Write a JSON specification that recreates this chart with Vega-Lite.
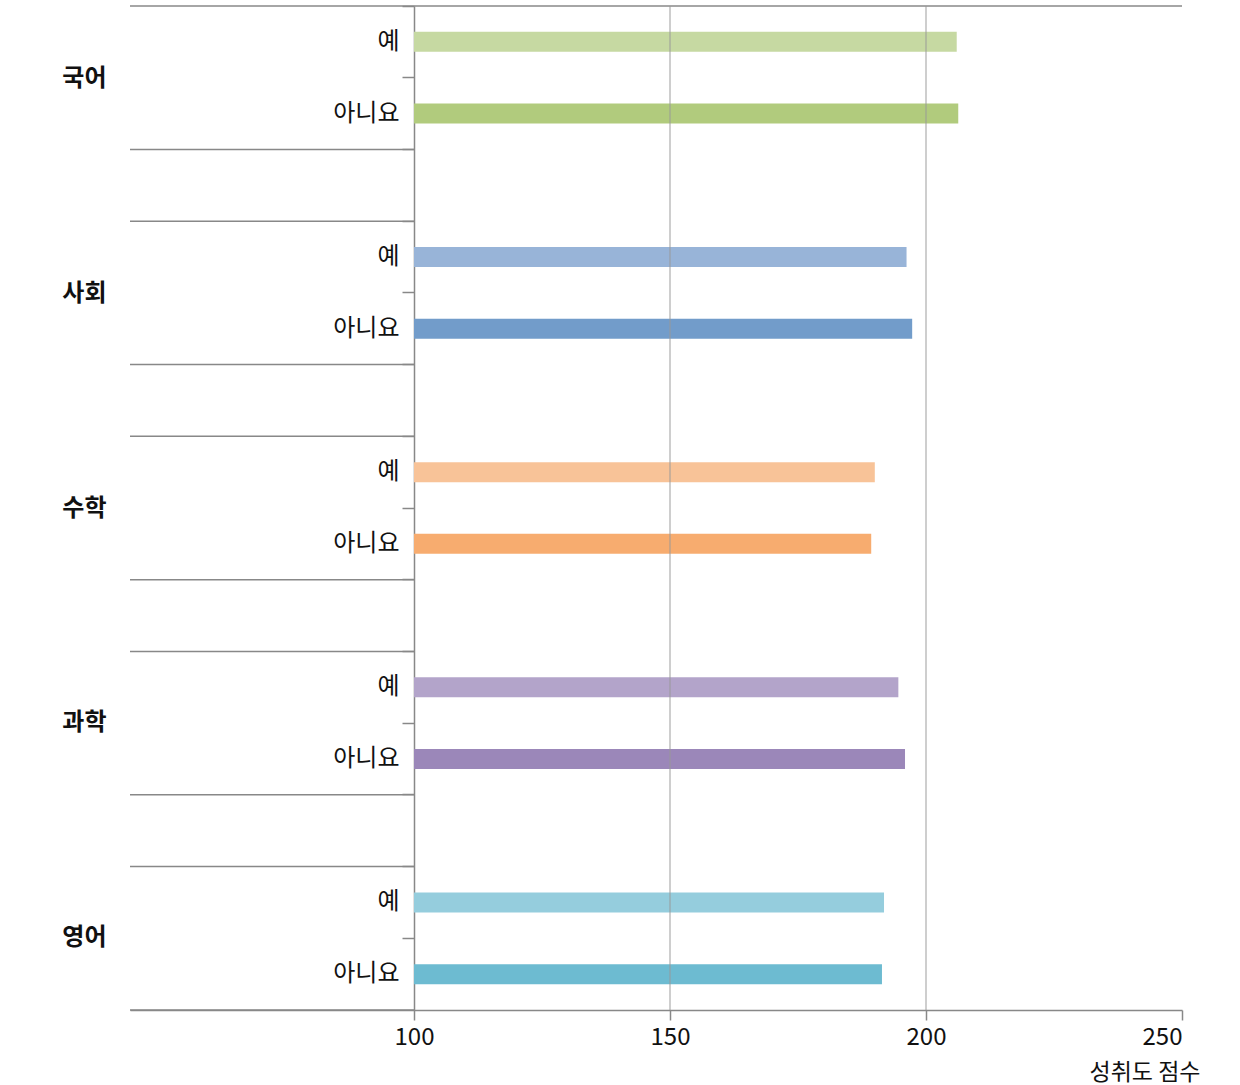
{
  "$schema": "https://vega.github.io/schema/vega-lite/v6.json",
  "width": 1052,
  "height": 1004,
  "autosize": {"type": "none"},
  "padding": {"left": 130, "top": 6, "right": 58, "bottom": 75},
  "config": {"view": {"stroke": null}, "font": "Noto Sans CJK KR"},
  "data": {"values": [
    {"subject": "국어", "answer": "예", "score": 206.0},
    {"subject": "국어", "answer": "아니요", "score": 206.3},
    {"subject": "사회", "answer": "예", "score": 196.2},
    {"subject": "사회", "answer": "아니요", "score": 197.3},
    {"subject": "수학", "answer": "예", "score": 190.0},
    {"subject": "수학", "answer": "아니요", "score": 189.3},
    {"subject": "과학", "answer": "예", "score": 194.6},
    {"subject": "과학", "answer": "아니요", "score": 195.9},
    {"subject": "영어", "answer": "예", "score": 191.8},
    {"subject": "영어", "answer": "아니요", "score": 191.4}
  ]},
  "transform": [{"calculate": "datum.subject + '|' + datum.answer", "as": "slot"}],
  "layer": [
    {
      "layer": [
        {
          "mark": {"type": "bar", "size": 20},
          "encoding": {
            "y": {
              "field": "slot", "type": "nominal", "title": null,
              "scale": {"domain": ["국어|예","국어|아니요","g1","사회|예","사회|아니요","g2","수학|예","수학|아니요","g3","과학|예","과학|아니요","g4","영어|예","영어|아니요"], "paddingInner": 0, "paddingOuter": 0},
              "axis": {
                "offset": -284,
                "bandPosition": 0,
                "labelExpr": "indexof(datum.value, '|') >= 0 ? split(datum.value, '|')[1] : ''",
                "tickSize": 12, "tickColor": "#888", "tickWidth": 1.5,
                "domainColor": "#888", "domainWidth": 1.5,
                "labelFontSize": 24, "labelColor": "#111", "labelPadding": 3,
                "grid": false, "title": null
              }
            },
            "x": {
              "field": "score", "type": "quantitative",
              "scale": {"domain": [44.53, 250], "nice": false, "zero": false},
              "axis": {
                "values": [100, 150, 200, 250], "grid": false,
                "tickSize": 10, "tickColor": "#888", "tickWidth": 1.5,
                "domainColor": "#888", "domainWidth": 1.5,
                "labelFontSize": 24, "labelColor": "#111", "labelPadding": 5,
                "title": "성취도 점수", "titleFontSize": 23, "titleFontWeight": "normal", "titleColor": "#111",
                "titleAnchor": "end", "titleAlign": "right", "titleX": 1070, "titleY": 69, "titleBaseline": "alphabetic"
              }
            },
            "x2": {"datum": 100},
            "color": {
              "field": "slot", "type": "nominal", "legend": null,
              "scale": {
                "domain": ["국어|예","국어|아니요","사회|예","사회|아니요","수학|예","수학|아니요","과학|예","과학|아니요","영어|예","영어|아니요"],
                "range": ["#c6d9a2","#b1cb7d","#98b4d8","#729cca","#f8c398","#f7ac6f","#b3a4ca","#9b87b9","#95cddd","#6dbbd1"]
              }
            }
          }
        },
        {
          "transform": [{"filter": "datum.answer == '예'"}],
          "mark": {"type": "rule", "color": "#888", "strokeWidth": 1.5},
          "encoding": {
            "y": {"field": "slot", "type": "nominal", "bandPosition": 0, "title": null},
            "x": {"datum": 44.53},
            "x2": {"datum": 100}
          }
        },
        {
          "transform": [{"filter": "datum.answer == '아니요'"}],
          "mark": {"type": "rule", "color": "#888", "strokeWidth": 1.5},
          "encoding": {
            "y": {"field": "slot", "type": "nominal", "bandPosition": 1, "title": null},
            "x": {"datum": 44.53},
            "x2": {"datum": 100}
          }
        },
        {
          "transform": [{"filter": "datum.slot == '국어|예'"}],
          "mark": {"type": "rule", "color": "#888", "strokeWidth": 1.5},
          "encoding": {
            "y": {"field": "slot", "type": "nominal", "bandPosition": 0, "title": null},
            "x": {"datum": 100},
            "x2": {"datum": 250}
          }
        },
        {
          "data": {"values": [{"v": 150}, {"v": 200}]},
          "mark": {"type": "rule", "color": "#999", "strokeWidth": 1.2, "opacity": 0.8},
          "encoding": {
            "x": {"field": "v", "type": "quantitative"}
          }
        }
      ]
    },
    {
      "mark": {"type": "text", "text": ""},
      "encoding": {
        "y": {
          "field": "subject", "type": "nominal", "title": null,
          "scale": {"type": "point", "domain": ["국어","사회","수학","과학","영어"], "padding": 0.335},
          "axis": {
            "orient": "left", "domain": false, "ticks": false, "grid": false,
            "labelFontSize": 24, "labelFontWeight": "bold", "labelColor": "#111", "labelPadding": 24, "title": null
          }
        }
      }
    }
  ],
  "resolve": {"scale": {"y": "independent"}, "axis": {"y": "independent"}}
}
